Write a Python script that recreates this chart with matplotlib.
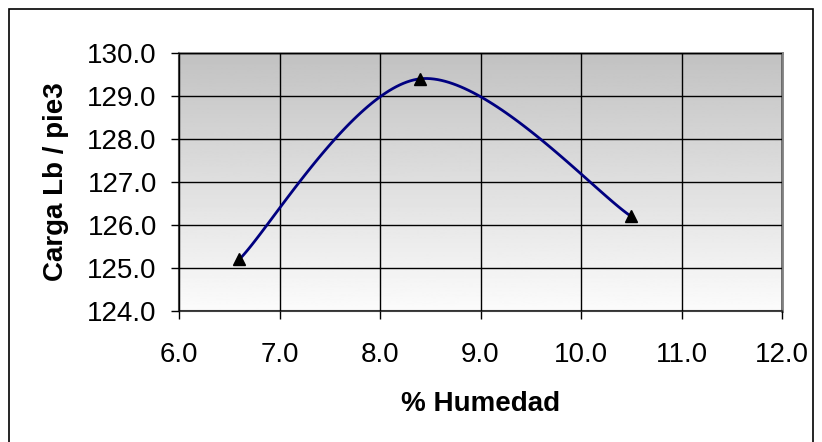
import numpy as np
import matplotlib.pyplot as plt
from matplotlib.patches import Rectangle

# datos
humedad = [6.6, 8.4, 10.5]
carga = [125.2, 129.4, 126.2]
xticks = [6.0, 7.0, 8.0, 9.0, 10.0, 11.0, 12.0]
yticks = [124.0, 125.0, 126.0, 127.0, 128.0, 129.0, 130.0]


def suavizar(xs, ys, n=60):
    # curva suavizada tipo Excel (Bezier con tangentes Catmull-Rom)
    p = np.column_stack([xs, ys]).astype(float)
    pts = []
    for i in range(len(p) - 1):
        p0 = p[i - 1] if i > 0 else p[i]
        p1, p2 = p[i], p[i + 1]
        p3 = p[i + 2] if i + 2 < len(p) else p[i + 1]
        c1 = p1 + (p2 - p0) / 6.0
        c2 = p2 - (p3 - p1) / 6.0
        t = np.linspace(0, 1, n)[:, None]
        seg = ((1 - t) ** 3) * p1 + 3 * ((1 - t) ** 2) * t * c1 + 3 * (1 - t) * t ** 2 * c2 + t ** 3 * p2
        pts.append(seg)
    pts = np.vstack(pts)
    return pts[:, 0], pts[:, 1]


plt.rcParams['font.family'] = ['Liberation Sans', 'DejaVu Sans']

fig = plt.figure(figsize=(8.22, 4.42), dpi=100)
ax = fig.add_axes([179 / 822, 1 - 311 / 442, (782 - 179) / 822, (311 - 53) / 442])

# fondo degradado gris (arriba) -> blanco (abajo)
grad = np.linspace(0.76, 0.985, 256)[:, None]
ax.imshow(grad, cmap='gray', vmin=0, vmax=1, aspect='auto',
          extent=[0, 1, 0, 1], transform=ax.transAxes, zorder=0)

sx, sy = suavizar(humedad, carga)
ax.plot(sx, sy, color='#000080', lw=2, zorder=3)
ax.plot(humedad, carga, linestyle='none', marker='^', color='black', markersize=8, zorder=4)

ax.set_xlim(6, 12)
ax.set_ylim(124, 130)
ax.set_xticks(xticks)
ax.set_yticks(yticks)
ax.set_xticklabels(['%.1f' % v for v in xticks])
ax.set_yticklabels(['%.1f' % v for v in yticks])
ax.grid(True, color='black', lw=1)
ax.set_axisbelow(False)
for gl in ax.get_xgridlines() + ax.get_ygridlines():
    gl.set_zorder(1)

ax.tick_params(axis='both', direction='out', length=6, width=1, color='black', labelsize=20)
ax.tick_params(axis='x', pad=16)
ax.tick_params(axis='y', pad=10)

for s in ['top', 'right']:
    ax.spines[s].set_color('#808080')
    ax.spines[s].set_linewidth(2)
for s in ['left', 'bottom']:
    ax.spines[s].set_color('#404040')
    ax.spines[s].set_linewidth(1.5)

ax.set_xlabel('% Humedad', fontsize=20, fontweight='bold', labelpad=17)
ax.set_ylabel('Carga Lb / pie3', fontsize=20, fontweight='bold', labelpad=13)

# marco exterior
fig.patches.append(Rectangle((9 / 822, -0.1), (813 - 9) / 822, 1.1 - 9 / 442,
                             transform=fig.transFigure, fill=False,
                             edgecolor='black', lw=1.2))

fig.savefig('out.png', dpi=100)
